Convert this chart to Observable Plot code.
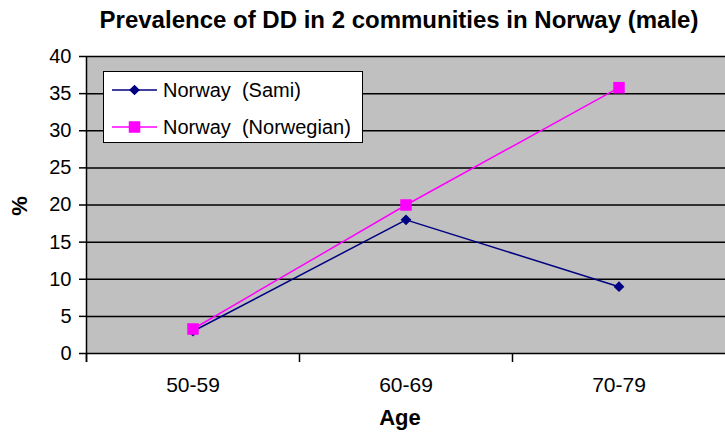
<!DOCTYPE html>
<html>
<head>
<meta charset="utf-8">
<script src="https://cdn.jsdelivr.net/npm/d3@7"></script>
<script src="https://cdn.jsdelivr.net/npm/@observablehq/plot@0.6"></script>
<style>
  body { margin: 0; background: #fff; }
  #wrap { position: relative; width: 725px; height: 432px; font-family: "Liberation Sans", Arial, sans-serif; }
  #wrap > svg { position: absolute; left: 0; top: 0; }
</style>
</head>
<body>
<div id="wrap"></div>
<script>
// ---- data ----
const categories = ["50-59", "60-69", "70-79"];
const sami = [3.0, 18.0, 9.0];
const norwegian = [3.3, 20.0, 35.8];
const seriesNames = ["Norway (Sami)", "Norway (Norwegian)"];
const seriesColors = ["#000080", "#ff00ff"];
const yTicks = [0, 5, 10, 15, 20, 25, 30, 35, 40];
const titleText = "Prevalence of DD in 2 communities in Norway (male)";
const xLabel = "Age";
const yLabel = "%";

const samiRows = categories.map((c, i) => ({series: seriesNames[0], cat: c, pos: i + 0.5, v: sami[i]}));
const norRows = categories.map((c, i) => ({series: seriesNames[1], cat: c, pos: i + 0.5, v: norwegian[i]}));

const font = "Liberation Sans, Arial, sans-serif";

const chart = Plot.plot({
  width: 725,
  height: 432,
  marginTop: 56,
  marginBottom: 79,
  marginLeft: 86,
  marginRight: 0,
  style: {fontFamily: font, fontSize: "20px", color: "#000", background: "transparent", overflow: "visible"},
  x: {domain: [0, categories.length], axis: null, label: null},
  y: {domain: [0, 40], axis: null, label: null},
  color: {domain: seriesNames, range: seriesColors},
  marks: [
    Plot.frame({fill: "#c0c0c0", stroke: null}),
    Plot.gridY(yTicks, {stroke: "#000", strokeOpacity: 1, strokeWidth: 1.5}),
    Plot.axisY(yTicks, {tickSize: 7, tickPadding: 8, strokeWidth: 1.5, fontSize: 20, fill: "#000", label: null}),
    Plot.ruleX([0], {y1: -1.2, y2: 40, stroke: "#000", strokeWidth: 1.5}),
    Plot.axisX(d3.range(categories.length), {tickSize: 9, strokeWidth: 1.5, tickFormat: () => "", label: null}),
    Plot.axisX(d3.range(categories.length).map(i => i + 0.5), {
      tickSize: 0, tickPadding: 24, fontSize: 21, fill: "#000", label: null,
      tickFormat: v => categories[Math.floor(v)]
    }),
    Plot.line(samiRows, {x: "pos", y: "v", stroke: "series", strokeWidth: 1.5}),
    Plot.line(norRows, {x: "pos", y: "v", stroke: "series", strokeWidth: 1.5}),
    Plot.dot(samiRows, {x: "pos", y: "v", fill: "series", stroke: null, symbol: "square", r: 4.3, rotate: 45}),
    Plot.dot(norRows, {x: "pos", y: "v", fill: "series", stroke: null, symbol: "square", r: 6.5})
  ]
});

const wrap = document.getElementById("wrap");
wrap.appendChild(chart);

// overlay: title, axis labels, legend
const ov = d3.select(wrap).append("svg")
  .attr("width", 725).attr("height", 432)
  .style("font-family", font)
  .style("pointer-events", "none");

ov.append("text").attr("x", 399).attr("y", 28).attr("text-anchor", "middle")
  .attr("font-size", 24).attr("font-weight", "bold").attr("fill", "#000").text(titleText);

ov.append("text").attr("x", 400).attr("y", 425).attr("text-anchor", "middle")
  .attr("font-size", 22).attr("font-weight", "bold").attr("fill", "#000").text(xLabel);

ov.append("text").attr("transform", "translate(27,206) rotate(-90)").attr("text-anchor", "middle")
  .attr("font-size", 22).attr("font-weight", "bold").attr("fill", "#000").text(yLabel);

const lg = ov.append("g");
lg.append("rect").attr("x", 103.5).attr("y", 71.5).attr("width", 259).attr("height", 71)
  .attr("fill", "#fff").attr("stroke", "#000").attr("stroke-width", 1);
const rowY = [90, 127];
seriesNames.forEach((name, i) => {
  const g = lg.append("g").attr("transform", `translate(0,${rowY[i]})`);
  g.append("line").attr("x1", 112).attr("x2", 157).attr("y1", 0).attr("y2", 0)
    .attr("stroke", seriesColors[i]).attr("stroke-width", 1.5);
  if (i === 0) {
    g.append("rect").attr("x", -3.8).attr("y", -3.8).attr("width", 7.6).attr("height", 7.6)
      .attr("transform", "translate(134.5,0) rotate(45)").attr("fill", seriesColors[i]);
  } else {
    g.append("rect").attr("x", 134.5 - 5.75).attr("y", -5.75).attr("width", 11.5).attr("height", 11.5)
      .attr("fill", seriesColors[i]);
  }
  g.append("text").attr("x", 163).attr("y", 7.2).attr("font-size", 20).attr("fill", "#000")
    .attr("xml:space", "preserve").style("white-space", "pre")
    .text(name.replace(" ", "  "));
});
</script>
</body>
</html>
